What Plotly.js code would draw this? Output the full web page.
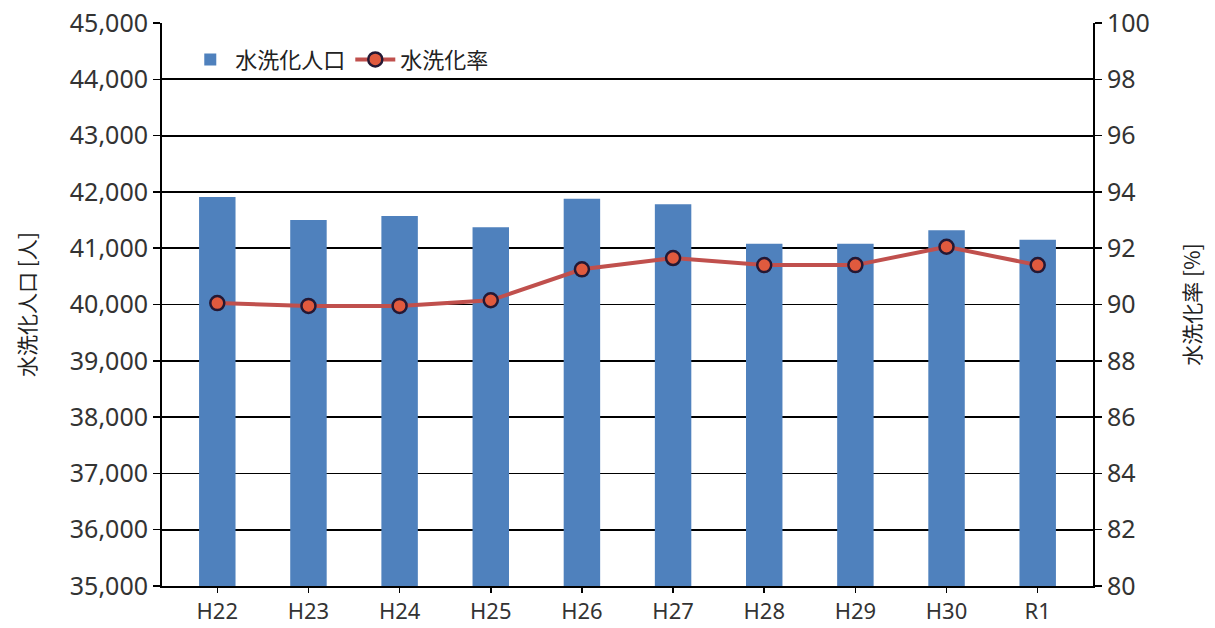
<!DOCTYPE html>
<html><head><meta charset="utf-8">
<script src="https://cdn.plot.ly/plotly-3.0.1.min.js"></script>
<style>html,body{margin:0;padding:0;background:#fff;}#chart{width:1215px;height:628px;}</style>
</head><body><div id="chart"></div>
<script>
const categories = ["H22","H23","H24","H25","H26","H27","H28","H29","H30","R1"];
const population = [41910, 41500, 41570, 41370, 41880, 41780, 41080, 41080, 41320, 41150];
const rate = [90.05, 89.95, 89.95, 90.15, 91.25, 91.65, 91.4, 91.4, 92.05, 91.4];
const popTicks = [35000,36000,37000,38000,39000,40000,41000,42000,43000,44000,45000];
const popTickText = ["35,000","36,000","37,000","38,000","39,000","40,000","41,000","42,000","43,000","44,000","45,000"];

const fontFam = '"Noto Sans", "Noto Sans CJK JP", sans-serif';
const cjk = '"Noto Sans CJK JP", sans-serif';
const traces = [
  {type:'bar', x:categories, y:population, name:'水洗化人口',
   marker:{color:'#4f81bd'}, yaxis:'y'},
  {type:'scatter', mode:'lines+markers', x:categories, y:rate, name:'水洗化率',
   line:{color:'#c0504d', width:4},
   marker:{color:'#e05a3e', size:14, line:{color:'#241834', width:2.5}}, yaxis:'y2'}
];
const layout = {
  width:1215, height:628,
  margin:{l:162, r:122, t:23, b:42},
  paper_bgcolor:'#fff', plot_bgcolor:'#fff',
  font:{family:fontFam, color:'#333', size:22},
  bargap:0.6,
  showlegend:true,
  legend:{orientation:'h', x:0.025, y:0.935, xanchor:'left', yanchor:'middle',
          font:{size:22, family:cjk, color:'#222'}, bgcolor:'rgba(0,0,0,0)', itemwidth:40},
  xaxis:{type:'category', showline:true, linecolor:'#000', linewidth:2,
         ticks:'outside', ticklen:5, tickcolor:'#000', tickwidth:1.5,
         tickfont:{size:22, color:'#333'}, showgrid:false, automargin:false},
  yaxis:{range:[35000,45000], tickvals:popTicks, ticktext:popTickText,
         showline:true, linecolor:'#000', linewidth:2, ticks:'outside', ticklen:7,
         tickcolor:'#000', tickwidth:1.5, showgrid:true, gridcolor:'#000', gridwidth:1.8,
         zeroline:false, tickfont:{size:25, color:'#333'},
         title:{text:'水洗化人口 [人]', standoff:28, font:{size:21, family:cjk, color:'#222'}}},
  yaxis2:{range:[80,100], dtick:2, overlaying:'y', side:'right',
          showline:true, linecolor:'#000', linewidth:2, ticks:'outside', ticklen:7,
          tickcolor:'#000', tickwidth:1.5, showgrid:false, zeroline:false,
          tickfont:{size:25, color:'#333'},
          title:{text:'水洗化率 [%]', standoff:36, font:{size:21, family:cjk, color:'#222'}}}
};
Plotly.newPlot('chart', traces, layout, {displayModeBar:false, staticPlot:true});
</script></body></html>
